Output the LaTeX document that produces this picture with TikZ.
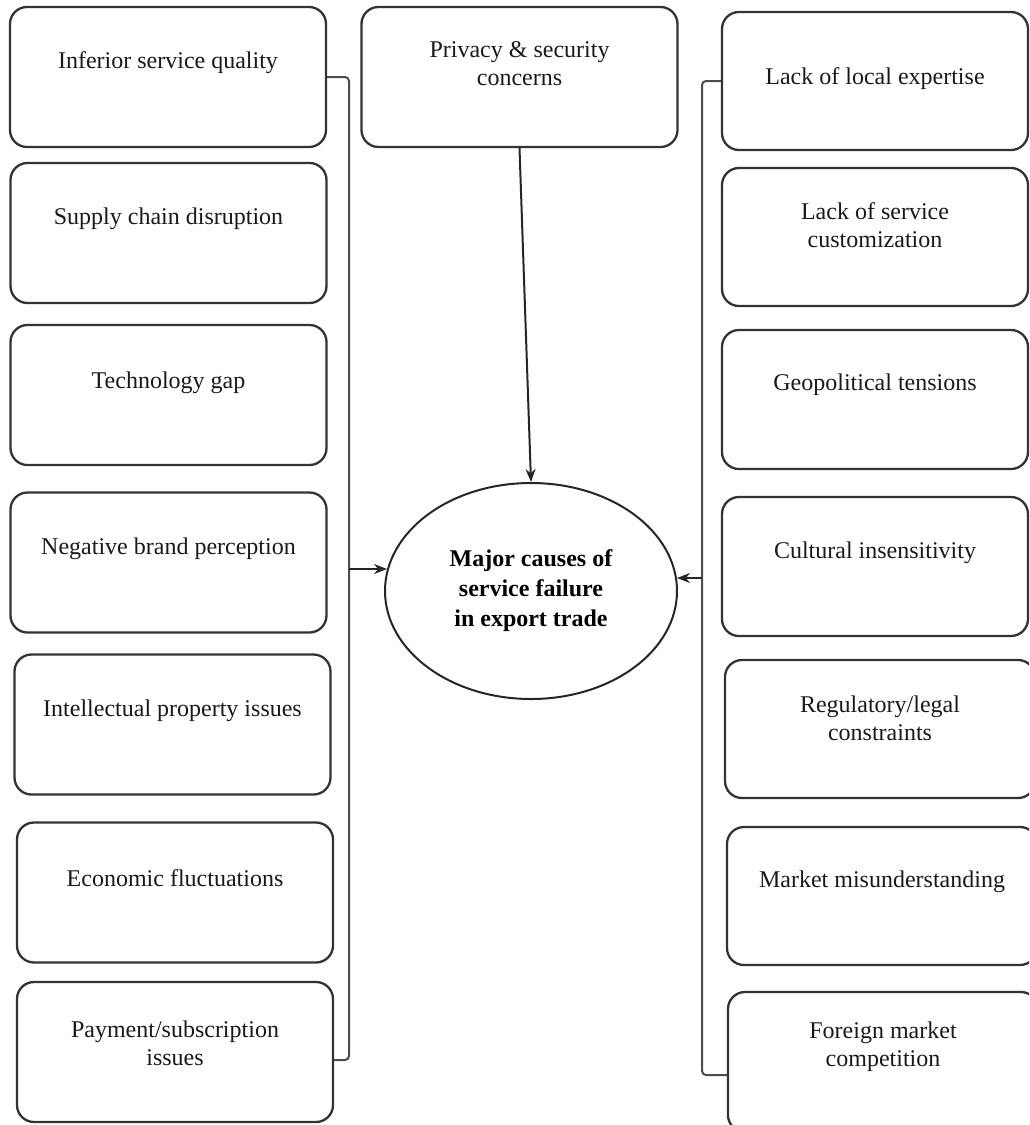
\documentclass[tikz,border=0pt]{standalone}
\usepackage{fontspec}
\setmainfont{Liberation Serif}
\usetikzlibrary{arrows.meta,shapes.geometric,calc}
\begin{document}
\begin{tikzpicture}[x=1pt,y=-1pt,
  causebox/.style={draw=black!80, line width=2.3pt, rounded corners=17pt,
    minimum width=316pt, minimum height=140pt, inner sep=0pt},
  causetext/.style={font=\fontsize{24}{28}\selectfont, text=black!90,
    align=center, inner sep=0pt},
  hub/.style={ellipse, draw=black!85, line width=2pt, minimum width=292pt,
    minimum height=216pt, inner sep=0pt, align=center,
    font=\fontsize{24}{30}\selectfont\bfseries, text=black},
  conn/.style={draw=black!70, line width=2pt, rounded corners=4pt},
  arr/.style={draw=black!85, line width=2pt, -{Stealth[length=13pt,width=10pt]}},
]
\useasboundingbox (0,0) rectangle (1029,1125);
\clip (0,0) rectangle (1029,1125);

% left column of causes
\node[causebox] (L1) at (168,77) {};
\node[causebox] (L2) at (168.5,233) {};
\node[causebox] (L3) at (168.5,395) {};
\node[causebox] (L4) at (168.5,562.5) {};
\node[causebox] (L5) at (172.5,724.5) {};
\node[causebox] (L6) at (175,892.5) {};
\node[causebox] (L7) at (175,1052) {};

\node[causetext] (L1t) at ($(L1.north)+(0,57)$) {Inferior service quality};
\node[causetext] (L2t) at ($(L2.north)+(0,57)$) {Supply chain disruption};
\node[causetext] (L3t) at ($(L3.north)+(0,59)$) {Technology gap};
\node[causetext] (L4t) at ($(L4.north)+(0,57)$) {Negative brand perception};
\node[causetext] (L5t) at ($(L5.north)+(0,57)$) {Intellectual property issues};
\node[causetext] (L6t) at ($(L6.north)+(0,57)$) {Economic fluctuations};
\node[causetext] (L7t) at ($(L7.north)+(0,62)$) {Payment/subscription\\issues};

% top middle cause
\node[causebox] (P) at (519.5,77) {};
\node[causetext] (Pt) at ($(P.north)+(0,58)$) {Privacy \& security\\concerns};

% right column of causes
\node[causebox, minimum width=306pt, minimum height=138pt] (R1) at (875,81) {};
\node[causebox, minimum width=306pt, minimum height=138pt] (R2) at (875,237) {};
\node[causebox, minimum width=306pt, minimum height=139pt] (R3) at (875,399.5) {};
\node[causebox, minimum width=306pt, minimum height=139pt] (R4) at (875,566.5) {};
\node[causebox, minimum width=310pt, minimum height=138pt] (R5) at (880,729) {};
\node[causebox, minimum width=310pt, minimum height=138pt] (R6) at (882,896) {};
\node[causebox, minimum width=310pt, minimum height=140pt] (R7) at (883,1062) {};

\node[causetext] (R1t) at ($(R1.north)+(0,68)$) {Lack of local expertise};
\node[causetext] (R2t) at ($(R2.north)+(0,58)$) {Lack of service\\customization};
\node[causetext] (R3t) at ($(R3.north)+(0,56)$) {Geopolitical tensions};
\node[causetext] (R4t) at ($(R4.north)+(0,57)$) {Cultural insensitivity};
\node[causetext] (R5t) at ($(R5.north)+(0,59)$) {Regulatory/legal\\constraints};
\node[causetext] (R6t) at ($(R6.north)+(0,56)$) {Market misunderstanding};
\node[causetext] (R7t) at ($(R7.north)+(0,56)$) {Foreign market\\competition};

% central effect
\node[hub] (E) at (531,591) {Major causes of\\service failure\\in export trade};

% left bracket collecting the left column
\coordinate (lt) at (349,77);
\coordinate (lb) at (349,1060);
\coordinate (la) at (349,569);
\draw[conn] (L1.east) -- (lt) -- (lb) -- (lb -| L7.east);
\draw[arr] (la) -- ($(la -| E.west)+(3,0)$);

% right bracket collecting the right column
\coordinate (rt) at (702,81);
\coordinate (rb) at (702,1075);
\coordinate (ra) at (702,578);
\draw[conn] (R1.west) -- (rt) -- (rb) -- (rb -| R7.west);
\draw[arr] (ra) -- ($(ra -| E.east)+(-1,0)$);

% privacy concerns straight down into the effect
\draw[arr] (P.south) -- (E.north);
\end{tikzpicture}
\end{document}
